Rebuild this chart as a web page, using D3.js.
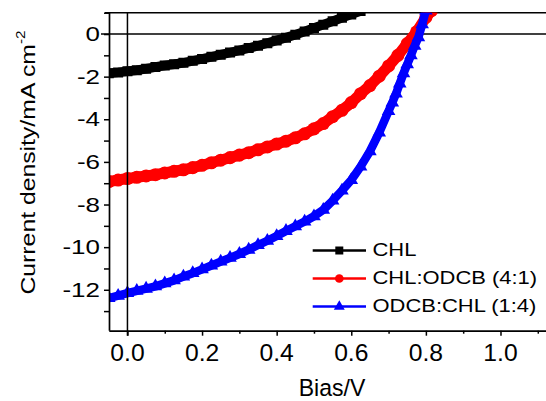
<!DOCTYPE html>
<html><head><meta charset="utf-8">
<script src="https://cdn.jsdelivr.net/npm/d3@7/dist/d3.min.js"></script>
<style>
html,body{margin:0;padding:0;background:#fff;}
svg{display:block;font-family:"Liberation Sans",Arial,sans-serif;}
</style></head>
<body>
<svg id="c" width="546" height="401"></svg>
<script>
// ---------- data ----------
const seriesNames = ["CHL", "CHL:ODCB (4:1)", "ODCB:CHL (1:4)"];
const seriesColors = ["#000000", "#ff0000", "#0000ff"];

const chlV = [-0.05,-0.025,0,0.025,0.05,0.075,0.1,0.125,0.15,0.175,0.2,0.225,0.25,0.275,0.3,0.325,0.35,0.375,0.4,0.425,0.45,0.475,0.5,0.525,0.55,0.575,0.6,0.625];
const chlJ = [-1.84,-1.80,-1.75,-1.70,-1.63,-1.55,-1.48,-1.42,-1.35,-1.26,-1.17,-1.07,-0.97,-0.87,-0.77,-0.66,-0.55,-0.43,-0.30,-0.17,-0.03,0.12,0.28,0.44,0.60,0.76,0.92,1.08];

const mixV = [-0.05,-0.025,0,0.025,0.05,0.075,0.1,0.125,0.15,0.175,0.2,0.225,0.25,0.275,0.3,0.325,0.35,0.375,0.4,0.425,0.45,0.475,0.5,0.525,0.55,0.575,0.6,0.625,0.65,0.675,0.7,0.725,0.75,0.775,0.8,0.815];
const mixJ = [-6.92,-6.85,-6.78,-6.72,-6.66,-6.60,-6.52,-6.44,-6.37,-6.27,-6.16,-6.04,-5.92,-5.80,-5.68,-5.57,-5.43,-5.30,-5.16,-5.03,-4.87,-4.68,-4.45,-4.20,-3.88,-3.58,-3.22,-2.80,-2.42,-1.98,-1.50,-1.00,-0.45,0.10,0.78,1.10];

const odcbV = [-0.05,-0.025,0,0.025,0.05,0.075,0.1,0.125,0.15,0.175,0.2,0.225,0.25,0.275,0.3,0.325,0.35,0.375,0.4,0.425,0.45,0.475,0.5,0.525,0.55,0.575,0.6,0.625,0.65,0.675,0.7,0.71,0.72,0.73,0.74,0.75,0.76,0.77,0.78,0.79,0.8];
const odcbJ = [-12.39,-12.28,-12.16,-12.05,-11.95,-11.84,-11.70,-11.56,-11.38,-11.22,-11.04,-10.86,-10.68,-10.50,-10.32,-10.12,-9.90,-9.70,-9.48,-9.24,-9.02,-8.80,-8.55,-8.25,-7.82,-7.35,-6.85,-6.22,-5.50,-4.62,-3.62,-3.22,-2.80,-2.32,-1.85,-1.42,-1.00,-0.55,-0.15,0.45,1.10];

const yTickLabels = [-12,-10,-8,-6,-4,-2,0];
const yMinorTicks = [-13,-12,-11,-10,-9,-8,-7,-6,-5,-4,-3,-2,-1,0,1];
const xTickLabels = [0.0,0.2,0.4,0.6,0.8,1.0];
const xMinorTicks = [0.1,0.3,0.5,0.7,0.9,1.1];

const xTitle = "Bias/V";
const yTitleMain = "Current density/mA cm";
const yTitleSup = "-2";

// ---------- layout ----------
const svg = d3.select("#c");
const L = 109, R = 546, T = 12.7, B = 330.7;
const x = d3.scaleLinear().domain([-0.05, 1.122]).range([108.8, 546]);
const y = d3.scaleLinear().domain([-13.92, 1.0]).range([B, T]);

svg.append("defs").append("clipPath").attr("id","clip")
  .append("rect").attr("x", L).attr("y", T).attr("width", R - L).attr("height", B - T);

// top frame line and horizontal zero line
svg.append("line").attr("x1", L - 4).attr("x2", R).attr("y1", y(1)).attr("y2", y(1))
  .attr("stroke","#000").attr("stroke-width",1.5);
svg.append("line").attr("x1", 101).attr("x2", R).attr("y1", y(0)).attr("y2", y(0))
  .attr("stroke","#000").attr("stroke-width",1.5);

// ---------- series ----------
const series = [
  {V: chlV, J: chlJ, sym: d3.symbolSquare, size: 100, lw: 9.5},
  {V: mixV, J: mixJ, sym: d3.symbolCircle, size: 135, lw: 11},
  {V: odcbV, J: odcbJ, sym: d3.symbolTriangle, size: 80, lw: 8.5}
];
const plot = svg.append("g").attr("clip-path","url(#clip)");
series.forEach((s, i) => {
  const pts = s.V.map((v, k) => [v, s.J[k]]);
  plot.append("path").datum(pts)
    .attr("d", d3.line().x(d => x(d[0])).y(d => y(d[1])))
    .attr("fill","none").attr("stroke", seriesColors[i])
    .attr("stroke-width", s.lw).attr("stroke-linejoin","round").attr("stroke-linecap","round");
  plot.selectAll(null).data(pts).enter().append("path")
    .attr("d", d3.symbol().type(s.sym).size(s.size))
    .attr("transform", d => `translate(${x(d[0])},${y(d[1])})`)
    .attr("fill", seriesColors[i]);
});

// vertical zero line (on top of curves)
svg.append("line").attr("x1", x(0)).attr("x2", x(0)).attr("y1", y(1)).attr("y2", B + 5)
  .attr("stroke","#000").attr("stroke-width",1.5);

// ---------- axes ----------
const yAxis = d3.axisLeft(y).tickValues(yMinorTicks).tickSize(5).tickSizeOuter(0).tickFormat("");
const gy = svg.append("g").attr("transform", `translate(${L},0)`).call(yAxis);
const xAxisMaj = d3.axisBottom(x).tickValues(xTickLabels).tickSize(5).tickSizeOuter(0).tickFormat("");
const xAxisMin = d3.axisBottom(x).tickValues(xMinorTicks).tickSize(3).tickSizeOuter(0).tickFormat("");
const gx = svg.append("g").attr("transform", `translate(0,${B})`).call(xAxisMaj);
const gx2 = svg.append("g").attr("transform", `translate(0,${B})`).call(xAxisMin);
gx2.select(".domain").remove();
[gy, gx, gx2].forEach(g => {
  g.selectAll("line").attr("stroke","#000").attr("stroke-width",1.5);
  g.selectAll(".domain").attr("stroke","#000").attr("stroke-width",1.7);
});
gy.select(".domain").attr("d", `M0.5,${T}V${B}`);

// y tick labels
svg.selectAll(null).data(yTickLabels).enter().append("text")
  .attr("transform", d => `translate(100,${y(d) + 7.2}) scale(1.3,1)`)
  .attr("text-anchor","end").attr("font-size", 20).attr("fill","#000")
  .text(d => String(d));

// x tick labels
svg.selectAll(null).data(xTickLabels).enter().append("text")
  .attr("transform", d => `translate(${x(d)},361) scale(1.05,1)`)
  .attr("text-anchor","middle").attr("font-size", 23.5).attr("fill","#000")
  .text(d => d.toFixed(1));

// axis titles
svg.append("text").attr("transform","translate(332,396) scale(0.98,1)")
  .attr("text-anchor","middle").attr("font-size",23.5).attr("fill","#000").text(xTitle);

const yt = svg.append("text").attr("transform","translate(35,162.5) rotate(-90) scale(1.18,1)")
  .attr("text-anchor","middle").attr("font-size",21).attr("fill","#000");
yt.append("tspan").text(yTitleMain);
yt.append("tspan").attr("dy",-10).attr("font-size",13).text(yTitleSup);

// ---------- legend ----------
const legendRowsY = [250.5, 278.5, 306.5];
const legSyms = [
  {sym: d3.symbolSquare, size: 64},
  {sym: d3.symbolCircle, size: 60},
  {sym: d3.symbolTriangle, size: 52}
];
seriesNames.forEach((name, i) => {
  const ly = legendRowsY[i];
  svg.append("line").attr("x1",312.7).attr("x2",366).attr("y1",ly).attr("y2",ly)
    .attr("stroke",seriesColors[i]).attr("stroke-width",2.6);
  svg.append("path").attr("d", d3.symbol().type(legSyms[i].sym).size(legSyms[i].size))
    .attr("transform",`translate(339.3,${ly})`).attr("fill",seriesColors[i]);
  svg.append("text").attr("transform",`translate(372.5,${ly + 5.6}) scale(1.22,1)`)
    .attr("font-size",18).attr("fill","#000").text(name);
});
</script>
</body></html>
